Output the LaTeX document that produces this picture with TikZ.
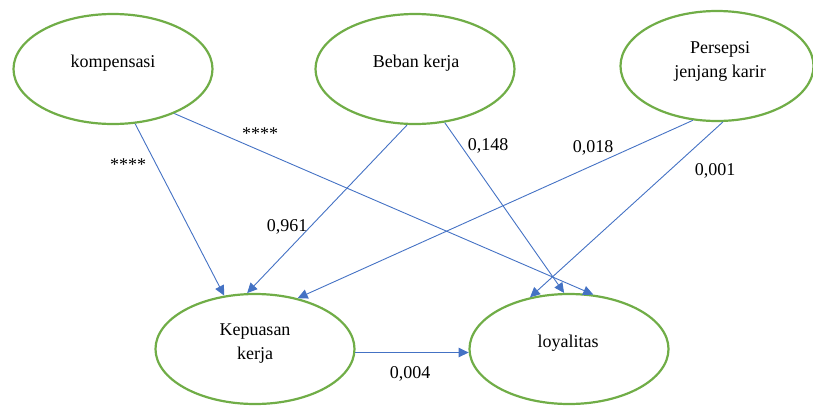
\documentclass[tikz,border=0pt]{standalone}
\usepackage{fontspec}
\setmainfont{Liberation Serif}
\usetikzlibrary{shapes.geometric,arrows.meta}
\definecolor{vargreen}{RGB}{112,173,71}
\definecolor{pathblue}{RGB}{68,114,196}
\begin{document}
\begin{tikzpicture}[x=1pt,y=-1pt,
  var/.style={draw=vargreen,line width=2.2pt,ellipse,inner sep=0pt,
              minimum width=199pt,minimum height=110pt},
  txt/.style={anchor=base,inner sep=0pt,font=\fontsize{18}{21}\selectfont},
  path/.style={draw=pathblue,line width=0.9pt,
               -{Triangle[length=10pt,width=9.5pt]}}]
\useasboundingbox (0,0) rectangle (813,405);

% latent variables
\node[var] (komp) at (113,69) {};
\node[var] (beban) at (415,69) {};
\node[var,minimum width=193pt] (pers) at (717,66) {};
\node[var] (kep) at (255,349) {};
\node[var] (loy) at (569,349) {};

% variable names
\node[txt] (tkomp) at (113,67) {kompensasi};
\node[txt] (tbeban) at (416,67) {Beban kerja};
\node[txt] (tpers1) at (720,53) {Persepsi};
\node[txt] (tpers2) at (720,77) {jenjang karir};
\node[txt] (tkep1) at (255,335) {Kepuasan};
\node[txt] (tkep2) at (255,359) {kerja};
\node[txt] (tloy) at (568,347) {loyalitas};

% structural paths
\draw[path] (komp.-68) -- (kep.120);
\draw[path] (komp.-36) -- (loy.66);
\draw[path] (beban.-98) -- (kep.98);
\draw[path] (beban.-61) -- (loy.95);
\draw[path] (pers.-114) -- (kep.50);
\draw[path] (pers.-84) -- (loy.127);
\draw[path] (kep.-2) -- (loy.182);

% path coefficients
\node[txt] (c1) at (128,170) {****};
\node[txt] (c2) at (260,139) {****};
\node[txt] (c3) at (287,231) {0,961};
\node[txt] (c4) at (488,150) {0,148};
\node[txt] (c5) at (593,152) {0,018};
\node[txt] (c6) at (715,175) {0,001};
\node[txt] (c7) at (410,378) {0,004};
\end{tikzpicture}
\end{document}
